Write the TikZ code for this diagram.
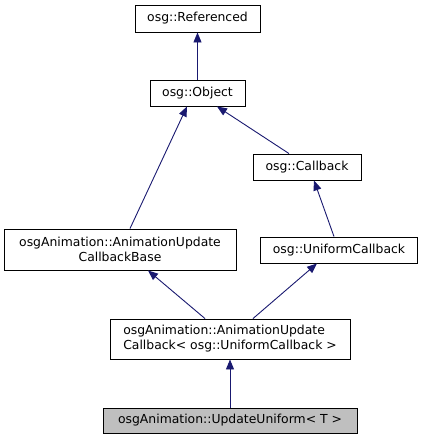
\documentclass[tikz,border=0pt]{standalone}
\usepackage{fontspec}
\setmainfont{DejaVu Sans}
\usepackage{xcolor}
\usetikzlibrary{positioning,calc,arrows.meta}
\definecolor{edgeblue}{HTML}{191970}

\begin{document}
\begin{tikzpicture}[x=1pt, y=-1pt,
    class block/.style={draw=black, line width=0.9pt, fill=white, rectangle, inner sep=0pt, align=center, font=\fontsize{12.4}{15}\selectfont},
    derived/.style={draw=edgeblue, line width=0.9pt, -{Triangle[length=10pt,width=8pt]}}]
    \useasboundingbox (0,0) rectangle (423,440);

    \node[class block, minimum width=125pt, minimum height=27pt] (ref) at (197.5,18.5) {osg::Referenced};
    \node[class block, minimum width=95pt, minimum height=26pt] (obj) at (197.5,93) {osg::Object};
    \node[class block, minimum width=108pt, minimum height=26pt] (cb) at (307,167) {osg::Callback};
    \node[class block, minimum width=232pt, minimum height=41pt] (base) at (120,249.5) {osgAnimation::AnimationUpdate \\ CallbackBase};
    \node[class block, minimum width=157pt, minimum height=26pt] (ucb) at (339,250) {osg::UniformCallback};
    \node[class block, align=left, minimum width=240pt, minimum height=40pt] (auc) at (230,339) {osgAnimation::AnimationUpdate \\ Callback< osg::UniformCallback >};
    \node[class block, fill=black!25, minimum width=254pt, minimum height=25pt] (uu) at (230,420.5) {osgAnimation::UpdateUniform< T >};

    \draw[derived] (obj.north) -- (ref.south);
    \draw[derived] ([xshift=10pt]base.north) -- ([xshift=-10.5pt]obj.south);
    \draw[derived] ([xshift=-18pt]cb.north) -- ([xshift=19.5pt]obj.south);
    \draw[derived] ([xshift=-5pt]ucb.north) -- ([xshift=7pt]cb.south);
    \draw[derived] ([xshift=-25pt]auc.north) -- ([xshift=28pt]base.south); % AnimationUpdateCallbackBase
    \draw[derived] ([xshift=23pt]auc.north) -- ([xshift=-22pt]ucb.south); % UniformCallback
    \draw[derived] (uu.north) -- (auc.south);

\end{tikzpicture}
\end{document}
